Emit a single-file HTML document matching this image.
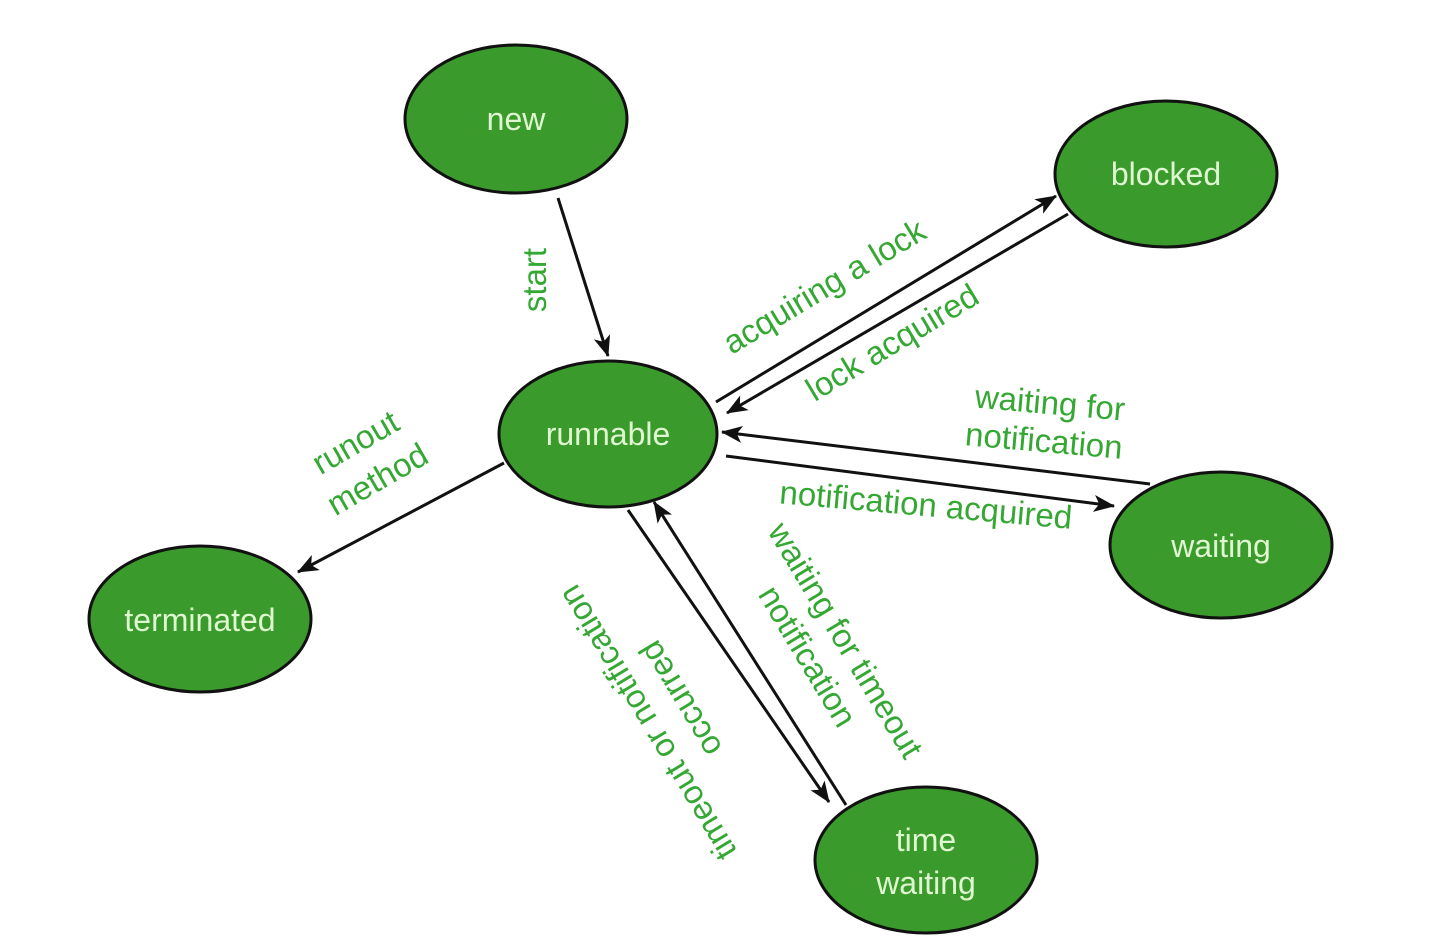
<!DOCTYPE html>
<html><head><meta charset="utf-8"><style>
html,body{margin:0;padding:0;background:#fff;}
svg{display:block;}
.n{fill:#3b9a2c;stroke:#111;stroke-width:3;}
.t{fill:#dff7d0;font-family:"Liberation Sans",sans-serif;font-size:32px;text-anchor:middle;}
.l{fill:#35a834;font-family:"Liberation Sans",sans-serif;font-size:33px;text-anchor:middle;}
.a{stroke:#111;stroke-width:3;fill:none;marker-end:url(#ah);}
</style></head><body>
<svg width="1432" height="950" viewBox="0 0 1432 950" xmlns="http://www.w3.org/2000/svg">
<defs><marker id="ah" viewBox="0 0 20 16" refX="19" refY="8" markerWidth="22" markerHeight="17" orient="auto" markerUnits="userSpaceOnUse"><path d="M0,0 L20,8 L0,16 L5,8z" fill="#111"/></marker></defs>
<g>
<ellipse class="n" cx="516" cy="119" rx="111" ry="74"/>
<ellipse class="n" cx="1166" cy="174" rx="111" ry="73"/>
<ellipse class="n" cx="608" cy="434" rx="109" ry="73"/>
<ellipse class="n" cx="1221" cy="545" rx="111" ry="73"/>
<ellipse class="n" cx="200" cy="619" rx="111" ry="73"/>
<ellipse class="n" cx="926" cy="860" rx="111" ry="73"/>
<text class="t" x="516" y="130">new</text>
<text class="t" x="1166" y="185">blocked</text>
<text class="t" x="608" y="445">runnable</text>
<text class="t" x="1221" y="557">waiting</text>
<text class="t" x="200" y="631">terminated</text>
<text class="t" x="926" y="851">time</text>
<text class="t" x="926" y="894">waiting</text>
</g>
<g>
<line class="a" x1="558" y1="198" x2="608" y2="356"/>
<line class="a" x1="716" y1="402" x2="1056" y2="196"/>
<line class="a" x1="1068" y1="214" x2="727" y2="413"/>
<line class="a" x1="1150" y1="484" x2="722" y2="432"/>
<line class="a" x1="726" y1="456" x2="1114" y2="506"/>
<line class="a" x1="504" y1="463" x2="298" y2="572"/>
<line class="a" x1="628" y1="510" x2="829" y2="802"/>
<line class="a" x1="846" y1="805" x2="654" y2="502"/>
</g>
<g>
<text class="l" transform="translate(546,280) rotate(-90)">start</text>
<text class="l" transform="translate(830,296) rotate(-31)">acquiring a lock</text>
<text class="l" transform="translate(898,352) rotate(-31)">lock acquired</text>
<text class="l" transform="translate(1049,414) rotate(5)">waiting for</text>
<text class="l" transform="translate(1043,452) rotate(5)">notification</text>
<text class="l" transform="translate(925,516) rotate(5)">notification acquired</text>
<text class="l" transform="translate(361,452) rotate(-30)">runout</text>
<text class="l" transform="translate(383,489) rotate(-30)">method</text>
<text class="l" transform="translate(836,646) rotate(59)">waiting for timeout</text>
<text class="l" transform="translate(798,662) rotate(59)">notification</text>
<text class="l" transform="translate(657,717) rotate(-121)">timeout or notification</text>
<text class="l" transform="translate(690,693) rotate(-121)">occurred</text>
</g>
</svg>
</body></html>
